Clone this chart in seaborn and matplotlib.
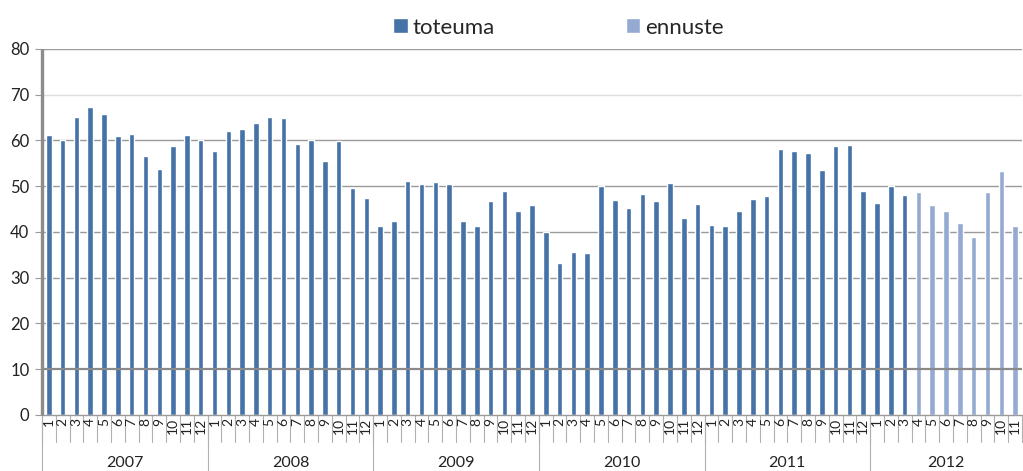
import numpy as np
import pandas as pd
import matplotlib
matplotlib.use('Agg')
import matplotlib.pyplot as plt
import seaborn as sns
from matplotlib.transforms import blended_transform_factory

years = ['2007', '2008', '2009', '2010', '2011', '2012']
months_per_year = [12, 12, 12, 12, 12, 11]
toteuma = [61.2, 60.1, 65.2, 67.4, 65.7, 60.9, 61.5, 56.7, 53.7, 58.7, 61.2, 60.1,
           57.6, 62.1, 62.4, 63.8, 65.2, 64.9, 59.3, 60.1, 55.6, 59.9, 49.6, 47.5,
           41.4, 42.5, 51.2, 50.4, 50.9, 50.4, 42.5, 41.4, 46.7, 49.0, 44.5, 45.9,
           40.1, 33.3, 35.6, 35.3, 50.1, 46.9, 45.3, 48.4, 46.7, 50.6, 43.1, 46.2,
           41.5, 41.2, 44.5, 47.3, 47.8, 58.1, 57.6, 57.3, 53.6, 58.7, 59.0, 49.0,
           46.4, 50.1, 48.1]
ennuste = [48.7, 45.9, 44.5, 42.0, 38.9, 48.7, 53.4, 41.2]
series_names = ['toteuma', 'ennuste']
colors = {'toteuma': '#4572A7', 'ennuste': '#95AAD2'}
y_ticks = [0, 10, 20, 30, 40, 50, 60, 70, 80]

month_labels = [str(m) for n in months_per_year for m in range(1, n + 1)]
values = toteuma + ennuste
series = [series_names[0]] * len(toteuma) + [series_names[1]] * len(ennuste)
df = pd.DataFrame({'pos': np.arange(len(values)), 'value': values, 'series': series})

sns.set_style('white')
plt.rcParams['font.family'] = ['Lato', 'DejaVu Sans']

fig = plt.figure(figsize=(10.23, 4.71), dpi=100)
ax = fig.add_axes([0.041, 0.119, 0.958, 0.777])

sns.barplot(data=df, x='pos', y='value', hue='series', hue_order=series_names,
            palette=colors, dodge=False, width=0.4, saturation=1, ax=ax)

n = len(values)
ax.set_xlim(-0.5, n - 0.5)
ax.set_ylim(0, 80)
ax.set_yticks(y_ticks)
ax.set_yticklabels([str(t) for t in y_ticks], fontsize=12, color='#222222')
ax.yaxis.grid(False)
ax.tick_params(axis='y', length=5, color='#9a9a9a', pad=4, left=True)
ax.set_xticks([])
ax.set_xlabel('')
ax.set_ylabel('')
for s in ['top', 'right', 'left']:
    ax.spines[s].set_visible(False)
ax.spines['bottom'].set_color('#9a9a9a')
ax.spines['bottom'].set_linewidth(1.0)

# gridlines (70 lighter, 10 drawn above the bars)
for t in y_ticks[1:]:
    if t == 70:
        ax.axhline(t, color='#dddddd', linewidth=1.0, zorder=0.5)
    elif t == 10:
        ax.axhline(t, color='#8a8a8a', linewidth=1.6, zorder=3)
    else:
        ax.axhline(t, color='#9a9a9a', linewidth=1.0, zorder=0.5)

trans = blended_transform_factory(ax.transData, ax.transAxes)
# left axis line
ax.plot([-0.5, -0.5], [0, 1], color='#8c8c8c', linewidth=2.4, transform=trans,
        clip_on=False, zorder=4, solid_capstyle='butt')
# month labels and separators
for i, lab in enumerate(month_labels):
    ax.text(i, -0.008, lab, rotation=90, ha='center', va='top', fontsize=10,
            color='#222222', transform=trans)
for k in range(n + 1):
    ax.plot([k - 0.5, k - 0.5], [0, -0.075], color='#b0b0b0', linewidth=0.8,
            transform=trans, clip_on=False)
# year labels and separators
start = 0
for y, m in zip(years, months_per_year):
    ax.plot([start - 0.5, start - 0.5], [0, -0.16], color='#b0b0b0', linewidth=0.8,
            transform=trans, clip_on=False)
    ax.text(start + (m - 1) / 2, -0.13, y, ha='center', va='center', fontsize=11.5,
            color='#222222', transform=trans)
    start += m

handles, labels = ax.get_legend_handles_labels()
if ax.get_legend() is not None:
    ax.get_legend().remove()
fig.legend(handles, labels, loc='upper center', bbox_to_anchor=(0.546, 1.005), ncol=2,
           frameon=False, handlelength=0.65, handleheight=0.65, handletextpad=0.22,
           columnspacing=5.9, fontsize=16)

fig.savefig('out.png', dpi=100)
